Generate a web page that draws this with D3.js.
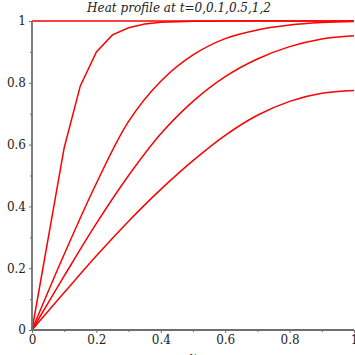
<!DOCTYPE html>
<html><head><meta charset="utf-8">
<script src="https://cdn.jsdelivr.net/npm/d3@7/dist/d3.min.js"></script>
<style>body{margin:0;background:#fff}svg{display:block}</style>
</head><body>
<script>
const title = "Heat profile at t=0,0.1,0.5,1,2";
const xLabel = "x";
const xTicks = [0, 0.2, 0.4, 0.6, 0.8, 1];
const yTicks = [0, 0.2, 0.4, 0.6, 0.8, 1];
const minorTicks = [0.1, 0.3, 0.5, 0.7, 0.9];
// curves: [x, u]
const curveT0 = [[0,1],[1,1]];
const curveT01 = [[0,0],[0.1,0.59],[0.15,0.79],[0.2,0.90],[0.25,0.955],[0.3,0.978],[0.35,0.99],[0.4,0.996],[0.5,0.999],[0.6,1],[0.8,1],[1,1]];
const curveT05 = [[0,0],[0.1,0.245],[0.2,0.475],[0.3,0.675],[0.4,0.805],[0.5,0.89],[0.6,0.943],[0.7,0.971],[0.8,0.987],[0.9,0.995],[1,0.998]];
const curveT1 = [[0,0],[0.1,0.175],[0.2,0.345],[0.3,0.50],[0.4,0.635],[0.5,0.74],[0.6,0.82],[0.7,0.877],[0.8,0.917],[0.9,0.942],[1,0.952]];
const curveT2 = [[0,0],[0.1,0.121],[0.2,0.240],[0.3,0.352],[0.4,0.455],[0.5,0.548],[0.6,0.630],[0.7,0.695],[0.8,0.740],[0.9,0.766],[1,0.775]];
const curves = [curveT0, curveT01, curveT05, curveT1, curveT2];

const W = 355, H = 355;
const svg = d3.select("body").append("svg").attr("width", W).attr("height", H);
const x = d3.scaleLinear().domain([0,1]).range([32,354]);
const y = d3.scaleLinear().domain([0,1]).range([330,21]);
const axisColor = "#6e6e6e";
const font = "'DejaVu Serif', serif";

svg.append("text").attr("x", 179).attr("y", 12).attr("text-anchor","middle")
  .style("font-family", font).style("font-style","italic").style("font-size","12px")
  .attr("fill","#222").text(title);

const lineGen = d3.line().x(d => x(d[0])).y(d => y(d[1])).curve(d3.curveCatmullRom.alpha(0.5));
svg.selectAll("path.c").data(curves).join("path").attr("class","c")
  .attr("d", (d,i) => i === 1 ? d3.line().x(p=>x(p[0])).y(p=>y(p[1]))(d) : lineGen(d))
  .attr("fill","none").attr("stroke","#ff0000").attr("stroke-width",1.5);

// axes
const xAxisG = svg.append("g").attr("transform","translate(0,330)");
xAxisG.call(d3.axisBottom(x).tickValues(xTicks).tickFormat(d3.format("~g")).tickSize(3).tickPadding(2));
const xMinor = svg.append("g").attr("transform","translate(0,330)");
xMinor.call(d3.axisBottom(x).tickValues(minorTicks).tickFormat("").tickSize(2));
const yAxisG = svg.append("g").attr("transform","translate(32,0)");
yAxisG.call(d3.axisLeft(y).tickValues(yTicks).tickFormat(d3.format("~g")).tickSize(3).tickPadding(3));
const yMinor = svg.append("g").attr("transform","translate(32,0)");
yMinor.call(d3.axisLeft(y).tickValues(minorTicks).tickFormat("").tickSize(2));
[xAxisG, xMinor, yAxisG, yMinor].forEach(g => {
  g.selectAll("path.domain").attr("stroke", axisColor).attr("stroke-width", 1.8);
  g.selectAll("line").attr("stroke", axisColor).attr("stroke-width", 1);
  g.selectAll("text").attr("fill","#222").style("font-family", font).style("font-size","12px");
});
xMinor.select("path.domain").remove();
yMinor.select("path.domain").remove();
xAxisG.select("path.domain").attr("d","M32,0H354");
yAxisG.select("path.domain").attr("d","M0,330V21");

svg.append("text").attr("x", 193).attr("y", 361).attr("text-anchor","middle")
  .style("font-family", font).style("font-style","italic").style("font-size","12px").attr("fill","#222")
  .text(xLabel);
</script>
</body></html>
